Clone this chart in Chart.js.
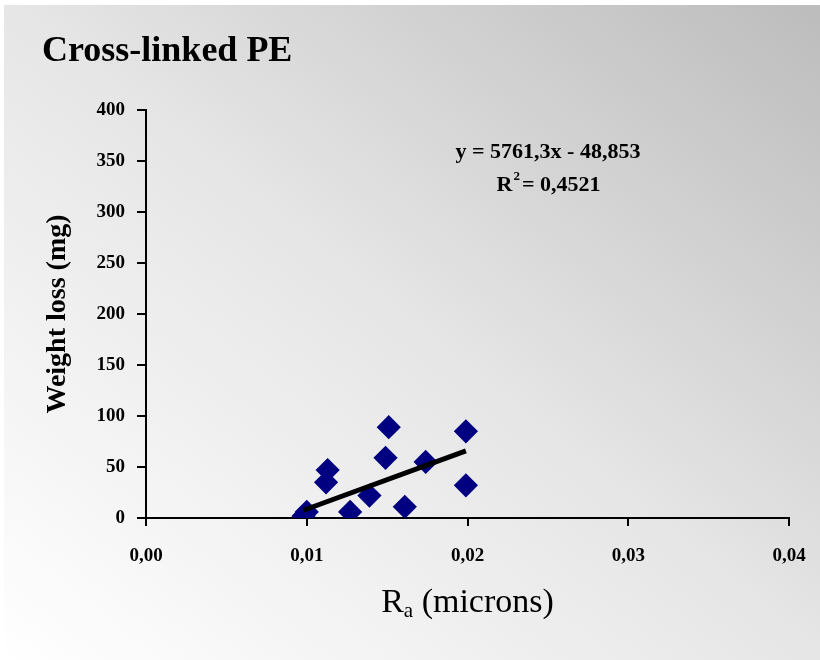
<!DOCTYPE html>
<html>
<head>
<meta charset="utf-8">
<title>Cross-linked PE</title>
<script src="https://cdn.jsdelivr.net/npm/chart.js@4.4.0/dist/chart.umd.min.js"></script>
<style>
  html, body { margin: 0; padding: 0; background: #fff; }
  #wrap { position: relative; width: 820px; height: 660px; }
</style>
</head>
<body>
<div id="wrap"><canvas id="chart" width="820" height="660"></canvas></div>
<script>
// Data
const ra = [0.0098, 0.0100, 0.0112, 0.0113, 0.0127, 0.0139, 0.0149, 0.0151, 0.0161, 0.0174, 0.0199, 0.0199];
const weightLoss = [2, 6, 35, 47, 6, 22, 59, 89, 11, 55, 32, 85];

// Excel trendline shown on the chart
const slope = 5761.3;
const intercept = -48.853;
const eqText = 'y = 5761,3x - 48,853';
const r2Value = '0,4521';

const xTicks = [0, 0.01, 0.02, 0.03, 0.04];
const yTicks = [0, 50, 100, 150, 200, 250, 300, 350, 400];
const chartTitle = 'Cross-linked PE';
const yTitle = 'Weight loss (mg)';

const SERIF = '"Liberation Serif", "Times New Roman", serif';

const trendX = [Math.min(...ra), Math.max(...ra)];
const trendData = trendX.map(x => ({ x: x, y: slope * x + intercept }));
const pointData = ra.map((x, i) => ({ x: x, y: weightLoss[i] }));

// Background gradient + free text (title, x title with subscript, equation)
const decorPlugin = {
    id: 'decor',
    beforeDraw(chart) {
        const ctx = chart.ctx;
        const g = ctx.createLinearGradient(732, -70, 88, 730);
        g.addColorStop(0, '#bcbcbc');
        g.addColorStop(0.5, '#e6e6e6');
        g.addColorStop(1, '#ffffff');
        ctx.save();
        ctx.fillStyle = g;
        ctx.fillRect(4, 5, chart.width - 4, chart.height - 5);
        ctx.restore();
    },
    afterDraw(chart) {
        const ctx = chart.ctx;
        const area = chart.chartArea;
        ctx.save();
        ctx.fillStyle = '#000';
        ctx.textBaseline = 'alphabetic';

        // main title
        ctx.font = 'bold 36px ' + SERIF;
        ctx.textAlign = 'left';
        ctx.fillText(chartTitle, 42, 61);

        // x axis title: R with subscript a
        const big = '34px ' + SERIF;
        const small = '21px ' + SERIF;
        ctx.font = big;
        const wR = ctx.measureText('R').width;
        const wRest = ctx.measureText(' (microns)').width;
        ctx.font = small;
        const wA = ctx.measureText('a').width;
        const total = wR + wA + wRest;
        let x = (area.left + area.right) / 2 - total / 2;
        const base = 612;
        ctx.font = big;
        ctx.fillText('R', x, base);
        x += wR;
        ctx.font = small;
        ctx.fillText('a', x, base + 5);
        x += wA;
        ctx.font = big;
        ctx.fillText(' (microns)', x, base);

        // trendline equation
        ctx.font = 'bold 22px ' + SERIF;
        ctx.textAlign = 'center';
        ctx.fillText(eqText, 548, 158);
        const sR = 'R';
        const sRest = '= ' + r2Value;
        const w1 = ctx.measureText(sR).width;
        const w3 = ctx.measureText(sRest).width;
        ctx.font = 'bold 13px ' + SERIF;
        const w2 = ctx.measureText('2').width + 2;
        let ex = 548 - (w1 + w2 + w3) / 2;
        ctx.textAlign = 'left';
        ctx.font = 'bold 22px ' + SERIF;
        ctx.fillText(sR, ex, 191);
        ex += w1 + 1;
        ctx.font = 'bold 13px ' + SERIF;
        ctx.fillText('2', ex, 180);
        ex += w2;
        ctx.font = 'bold 22px ' + SERIF;
        ctx.fillText(sRest, ex, 191);
        ctx.restore();
    }
};

const axisLine = { display: true, color: '#000', width: 2 };

new Chart(document.getElementById('chart'), {
    type: 'scatter',
    data: {
        datasets: [
            {
                type: 'line',
                label: 'Trend',
                data: trendData,
                borderColor: '#000',
                borderWidth: 5,
                pointRadius: 0,
                fill: false,
                order: 0
            },
            {
                label: 'Cross-linked PE',
                data: pointData,
                pointStyle: 'rectRot',
                pointRadius: 10,
                pointHoverRadius: 10,
                backgroundColor: '#000080',
                borderColor: '#000080',
                borderWidth: 3,
                order: 1
            }
        ]
    },
    options: {
        responsive: false,
        animation: false,
        layout: { padding: { left: 0, right: 31, top: 110, bottom: 0 } },
        plugins: {
            legend: { display: false },
            tooltip: { enabled: false },
            title: { display: false }
        },
        scales: {
            x: {
                type: 'linear',
                min: 0,
                max: 0.04,
                afterBuildTicks: (scale) => { scale.ticks = xTicks.map(v => ({ value: v })); },
                afterFit: (scale) => {
                    scale.height = 142;
                    scale.paddingLeft = 0;
                    scale.paddingRight = 0;
                },
                grid: { display: true, drawOnChartArea: false, drawTicks: true, tickLength: 8, color: '#000', lineWidth: 2 },
                border: axisLine,
                ticks: {
                    color: '#000',
                    padding: 19,
                    maxRotation: 0,
                    font: { family: SERIF, size: 19, weight: 'bold' },
                    callback: (v) => v.toFixed(2).replace('.', ',')
                }
            },
            y: {
                type: 'linear',
                min: 0,
                max: 400,
                afterBuildTicks: (scale) => { scale.ticks = yTicks.map(v => ({ value: v })); },
                afterFit: (scale) => { scale.width = 146; },
                grid: { display: true, drawOnChartArea: false, drawTicks: true, tickLength: 9, color: '#000', lineWidth: 2 },
                border: axisLine,
                ticks: {
                    color: '#000',
                    padding: 12,
                    font: { family: SERIF, size: 19, weight: 'bold' }
                },
                title: {
                    display: true,
                    text: yTitle,
                    color: '#000',
                    padding: { top: 41, bottom: 0 },
                    font: { family: SERIF, size: 28, weight: 'bold' }
                }
            }
        }
    },
    plugins: [decorPlugin]
});
</script>
</body>
</html>
